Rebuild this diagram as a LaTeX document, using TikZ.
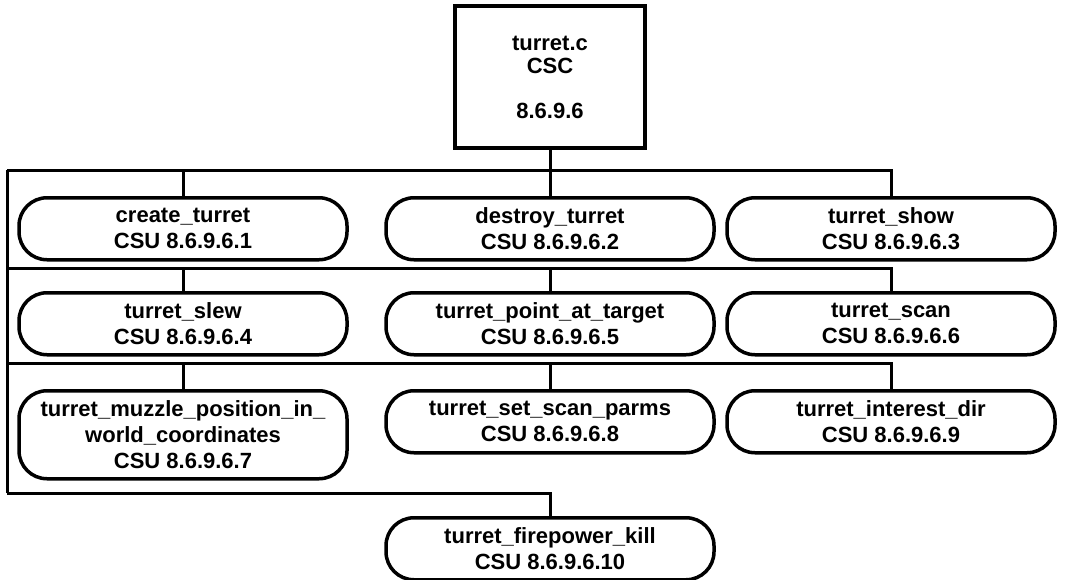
\documentclass[tikz,border=0pt]{standalone}
\usepackage{fontspec}
\setmainfont{Liberation Sans}
\begin{document}
\begin{tikzpicture}[x=1pt,y=-1pt]
	% Styles
	\tikzstyle{lien}=[-,line width=3pt]
	\tikzstyle{csc}=[draw,line width=3.5pt,minimum width=190pt,minimum height=142pt,align=center,font=\fontsize{22}{23}\selectfont\bfseries]
	\tikzstyle{csu}=[draw,line width=3.5pt,rounded corners=28pt,minimum width=328pt,minimum height=62pt,align=center,anchor=north,font=\fontsize{22}{26}\selectfont\bfseries]
	% Dimensions
	\def\Gauche{7}
	\def\ColonneA{183}
	\def\ColonneB{550}
	\def\ColonneC{891}
	\def\BusA{170}
	\def\BusB{268}
	\def\BusC{363}
	\def\BusD{493}
	\def\NiveauA{196}
	\def\NiveauB{291}
	\def\NiveauC{389}
	\def\NiveauD{516}
	\useasboundingbox (0,0) rectangle (1071,579);
	% Noeuds
	\node[csc] (turret) at (\ColonneB,77) {turret.c\\CSC\\[22pt]8.6.9.6};
	%
	\node[csu] (create) at (\ColonneA,\NiveauA) {create\_turret\\CSU 8.6.9.6.1};
	\node[csu] (destroy) at (\ColonneB,\NiveauA) {destroy\_turret\\CSU 8.6.9.6.2};
	\node[csu] (show) at (\ColonneC,\NiveauA) {turret\_show\\CSU 8.6.9.6.3};
	%
	\node[csu] (slew) at (\ColonneA,\NiveauB) {turret\_slew\\CSU 8.6.9.6.4};
	\node[csu] (point) at (\ColonneB,\NiveauB) {turret\_point\_at\_target\\CSU 8.6.9.6.5};
	\node[csu] (scan) at (\ColonneC,\NiveauB) {turret\_scan\\CSU 8.6.9.6.6};
	%
	\node[csu,minimum height=88pt] (muzzle) at (\ColonneA,\NiveauC) {turret\_muzzle\_position\_in\_\\world\_coordinates\\CSU 8.6.9.6.7};
	\node[csu] (setscan) at (\ColonneB,\NiveauC) {turret\_set\_scan\_parms\\CSU 8.6.9.6.8};
	\node[csu] (interest) at (\ColonneC,\NiveauC) {turret\_interest\_dir\\CSU 8.6.9.6.9};
	%
	\node[csu] (kill) at (\ColonneB,\NiveauD) {turret\_firepower\_kill\\CSU 8.6.9.6.10};
	% Liens
	\coordinate (bA) at (\Gauche,\BusA);
	\coordinate (bB) at (\Gauche,\BusB);
	\coordinate (bC) at (\Gauche,\BusC);
	\coordinate (bD) at (\Gauche,\BusD);
	\draw[lien] (bA)--(bD);
	\draw[lien] (turret.south)--(destroy.north);
	\draw[lien] (create.north) |- (bA);
	\draw[lien] (show.north) |- (bA);
	\draw[lien] (slew.north) |- (bB);
	\draw[lien] (scan.north) |- (bB);
	\draw[lien] (point.north)--(point.north |- bB);
	\draw[lien] (muzzle.north) |- (bC);
	\draw[lien] (interest.north) |- (bC);
	\draw[lien] (setscan.north)--(setscan.north |- bC);
	\draw[lien] (kill.north) |- (bD);
\end{tikzpicture}
\end{document}
